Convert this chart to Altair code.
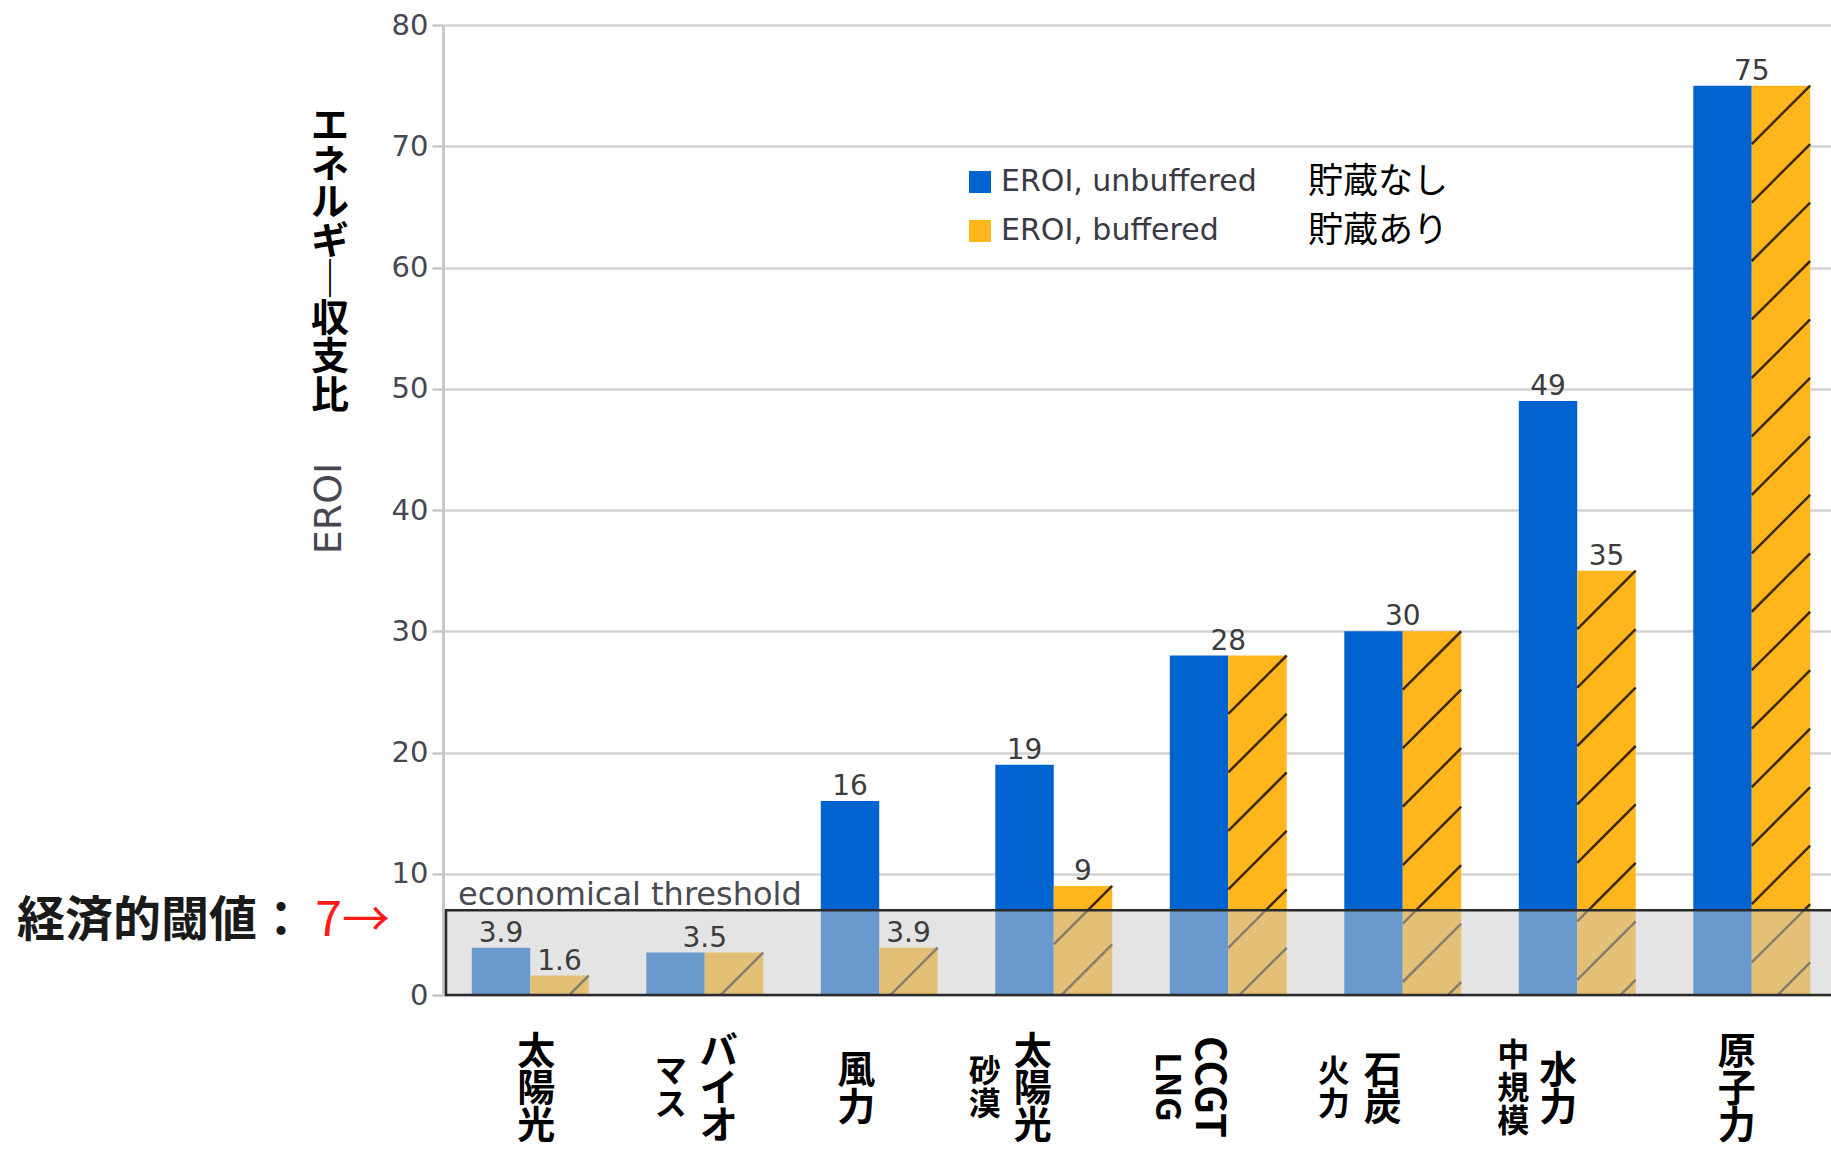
import altair as alt
import pandas as pd

# ---------------- data ----------------
categories = ["太陽光", "バイオマス", "風力", "太陽光(砂漠)", "CCGT LNG", "石炭火力", "水力(中規模)", "原子力"]
eroi_unbuffered = [3.9, 3.5, 16, 19, 28, 30, 49, 75]
eroi_buffered = [1.6, 3.5, 3.9, 9, 28, 30, 35, 75]
series_names = ["EROI, unbuffered", "EROI, buffered"]
series_notes = ["貯蔵なし", "貯蔵あり"]

# category labels written vertically: main (right) column and secondary (left) column
label_main = ["太陽光", "バイオ", "風力", "太陽光", "CCGT", "石炭", "水力", "原子力"]
label_sub = ["", "マス", "", "砂漠", "LNG", "火力", "中規模", ""]

y_ticks = [0, 10, 20, 30, 40, 50, 60, 70, 80]
threshold = [7]
threshold_note = "economical threshold"
threshold_label = "経済的閾値："
threshold_value_label = "7→"
y_title_en = "EROI"
y_title_ja = "エネルギー収支比"

# ---------------- layout / style ----------------
W, H = 1388, 970
X_RANGE = 1396
PAD_IN = 0.33
LEFT, TOP, BOTTOM_PAD = 443, 25, 150
BLUE, ORANGE = "#0063CF", "#FFB51C"
EN_FONT = "DejaVu Sans"
JA_FONT = "Noto Sans CJK JP"
TEXT_GRAY = "#3c3c3c"

# horizontal nudges (px) for the vertical category labels
main_dx = [6, 14, -23, -21, -20, -20, -19, -15]
sub_dx = [0, -34, 0, -69, -62, -69, -64, 0]
LABEL_CY = 1062

x_scale = alt.Scale(domain=categories, range=[0, X_RANGE],
                    paddingInner=PAD_IN, paddingOuter=PAD_IN / 2)
y_scale = alt.Scale(domain=[y_ticks[0], y_ticks[-1]], nice=False)


def y_enc(field):
    return alt.Y(field, scale=y_scale, title=y_title_en)


def vertical(s):
    return "\n".join("｜" if ch == "ー" else ch for ch in s)


# ---------------- bars ----------------
bars_df = pd.DataFrame({
    "cat": categories * 2,
    "series": [series_names[0]] * len(categories) + [series_names[1]] * len(categories),
    "value": eroi_unbuffered + eroi_buffered,
})

bars = alt.Chart(bars_df).mark_bar().encode(
    x=alt.X("cat:N", scale=x_scale, axis=None),
    xOffset=alt.XOffset("series:N", sort=series_names,
                        scale=alt.Scale(paddingInner=0, paddingOuter=0)),
    y=alt.Y("value:Q", scale=y_scale, title=y_title_en,
            axis=alt.Axis(values=y_ticks, grid=True, gridColor="#d3d3d3", gridWidth=2.5,
                          domainColor="#c8c8c8", domainWidth=3,
                          tickColor="#c8c8c8", tickSize=11, tickWidth=2.5,
                          labelFont=EN_FONT, labelFontSize=29, labelColor="#474752",
                          labelPadding=4, titleFont=EN_FONT,
                          titleFontSize=38, titleFontWeight="normal", titleColor="#474752",
                          titleX=-95, titleY=483)),
    color=alt.Color("series:N", sort=series_names,
                    scale=alt.Scale(domain=series_names, range=[BLUE, ORANGE]),
                    legend=alt.Legend(title=None, orient="none", legendX=522, legendY=142,
                                      direction="vertical", symbolType="square",
                                      symbolSize=484, symbolStrokeWidth=0,
                                      labelFont=EN_FONT, labelFontSize=30, labelLimit=500,
                                      labelColor="#3a3a44", labelOffset=6,
                                      rowPadding=19, padding=0)),
)

# ---------------- diagonal hatching on the buffered bars ----------------
step_px = X_RANGE / len(categories)
bar_px = step_px * (1 - PAD_IN) / 2
hatch_units = bar_px / (H / (y_ticks[-1] - y_ticks[0]))
hatch_rows = []
for cat, v in zip(categories, eroi_buffered):
    k = 0
    while v - k * hatch_units > 0:
        hi = v - k * hatch_units
        hatch_rows.append({"cat": cat, "y_lo": hi - hatch_units, "y_hi": hi})
        k += 1

hatch = alt.Chart(pd.DataFrame(hatch_rows)).mark_rule(
    clip=True, color="#3b2a05", strokeWidth=2.5
).encode(
    x=alt.X("cat:N", bandPosition=0.5, scale=x_scale, axis=None),
    x2=alt.X2("cat", bandPosition=1.0),
    y=y_enc("y_lo:Q"),
    y2="y_hi:Q",
)

# ---------------- economical threshold band ----------------
thr_df = pd.DataFrame({"t": threshold, "b": [0]})
box = alt.Chart(thr_df).mark_rect(
    fill="#cccccc", fillOpacity=0.52, stroke="#2a2a2a", strokeWidth=2.5
).encode(
    x=alt.value(3), x2=alt.value(W + 30),
    y=y_enc("t:Q"), y2="b:Q",
)

thr_note = alt.Chart(thr_df).mark_text(
    text=threshold_note, font=EN_FONT, fontSize=32, color="#4a4a52",
    align="left", baseline="alphabetic", dy=-5
).encode(x=alt.value(15), y=y_enc("t:Q"))

thr_label = alt.Chart(thr_df).mark_text(
    text=threshold_label, font=JA_FONT, fontSize=48, fontWeight="bold", color="#1a1a1a",
    align="left", baseline="middle", dy=12
).encode(x=alt.value(17 - LEFT), y=y_enc("t:Q"))

thr_value = alt.Chart(thr_df).mark_text(
    text=threshold_value_label, font=JA_FONT, fontSize=48, color="#ff1a1a",
    align="right", baseline="middle", dy=12
).encode(x=alt.value(390 - LEFT), y=y_enc("t:Q"))

# ---------------- value labels ----------------
diff_rows, same_rows = [], []
for cat, u, b in zip(categories, eroi_unbuffered, eroi_buffered):
    if u == b:
        same_rows.append({"cat": cat, "value": u, "lbl": f"{u:g}"})
    else:
        diff_rows.append({"cat": cat, "series": series_names[0], "value": u, "lbl": f"{u:g}"})
        diff_rows.append({"cat": cat, "series": series_names[1], "value": b, "lbl": f"{b:g}"})

val_style = dict(font=EN_FONT, fontSize=28, color=TEXT_GRAY, baseline="bottom")
vals_diff = alt.Chart(pd.DataFrame(diff_rows)).mark_text(**val_style).encode(
    x=alt.X("cat:N", scale=x_scale, axis=None),
    xOffset=alt.XOffset("series:N", sort=series_names,
                        scale=alt.Scale(paddingInner=0, paddingOuter=0)),
    y=y_enc("value:Q"),
    text="lbl:N",
)
vals_same = alt.Chart(pd.DataFrame(same_rows)).mark_text(**val_style).encode(
    x=alt.X("cat:N", scale=x_scale, axis=None),
    y=y_enc("value:Q"),
    text="lbl:N",
)

# ---------------- legend notes in Japanese ----------------
note_layers = []
for i, note in enumerate(series_notes):
    note_layers.append(
        alt.Chart(pd.DataFrame({"n": [note]})).mark_text(
            font=JA_FONT, fontSize=35, color="#000000", align="left", baseline="middle"
        ).encode(x=alt.value(865), y=alt.value(157 + 49 * i), text="n:N")
    )

# ---------------- vertical Japanese y title ----------------
ja_title = alt.Chart(pd.DataFrame({"t": [vertical(y_title_ja)]})).mark_text(
    font=JA_FONT, fontSize=38, fontWeight="bold", color="#000000",
    align="center", baseline="top", lineBreak="\n", lineHeight=38.5
).encode(x=alt.value(-113), y=alt.value(83), text="t:N")


# ---------------- vertical category labels ----------------
def label_layer(cat, text, dx, size, lh):
    df = pd.DataFrame({"cat": [cat], "t": [text]})
    if text.isascii():
        # rotated a quarter turn clockwise: the text frame's y axis points left
        mark = alt.Chart(df).mark_text(
            font=JA_FONT, fontSize=size, fontWeight="bold", color="#000000",
            align="center", baseline="middle", angle=90, dy=-dx
        )
        y = LABEL_CY
    else:
        n = len(text)
        df["t"] = [vertical(text)]
        mark = alt.Chart(df).mark_text(
            font=JA_FONT, fontSize=size, fontWeight="bold", color="#000000",
            align="center", baseline="top", lineBreak="\n", lineHeight=lh, dx=dx
        )
        y = LABEL_CY - ((n - 1) * lh + 0.82 * size) / 2
    return mark.encode(x=alt.X("cat:N", scale=x_scale, axis=None),
                       y=alt.value(y), text="t:N")


cat_labels = []
for i, cat in enumerate(categories):
    main_size = 40 if label_main[i].isascii() else 38
    cat_labels.append(label_layer(cat, label_main[i], main_dx[i], main_size, 37))
    if label_sub[i]:
        sub_size = 34 if label_sub[i].isascii() else 32
        cat_labels.append(label_layer(cat, label_sub[i], sub_dx[i], sub_size, 33))

chart = alt.layer(
    bars, hatch, box, vals_diff, vals_same, thr_note, thr_label, thr_value,
    ja_title, *note_layers, *cat_labels
).properties(
    width=W, height=H,
    autosize=alt.AutoSizeParams(type="none"),
    padding={"left": LEFT, "top": TOP, "right": 0, "bottom": BOTTOM_PAD},
    background="white",
).configure_view(stroke=None)

chart.save("out.html", embed_options={"renderer": "svg", "actions": False})
